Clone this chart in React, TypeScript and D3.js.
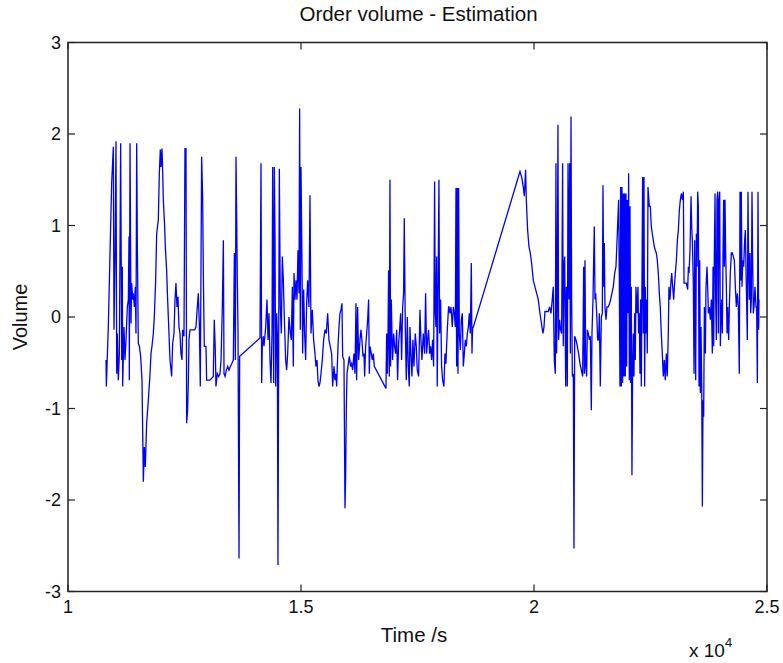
import React from 'react';
import * as d3 from 'd3';

// Order volume estimate: [time (s), volume]
const orderVolume: [number, number][] = [
  [10816, -0.47], [10823, -0.76], [10866, -0.09], [10902, 0.7], [10937, 1.46], [10973, 1.86], [10987, -0.14], [11009, 0.64],
  [11030, 1.92], [11045, -0.62], [11059, -0.18], [11080, -0.69], [11102, -0.4], [11130, 1.9], [11152, -0.47], [11166, 0.55],
  [11173, -0.76], [11202, -0.11], [11223, -0.47], [11245, -0.25], [11273, 0.11], [11295, 0.19], [11309, 0.88], [11316, -0.69],
  [11331, 1.9], [11352, -0.07], [11366, 0.37], [11388, 0.19], [11402, 0.26], [11423, 0.11], [11445, 0.33], [11459, -0.18],
  [11474, 1.9], [11488, 0.81], [11509, -0.29], [11531, -0.32], [11559, -0.43], [11588, -0.69], [11617, -1.8], [11638, -1.42],
  [11659, -1.64], [11688, -1.16], [11724, -0.91], [11760, -0.62], [11781, -0.4], [11802, -0.32], [11831, -0.18], [11852, 0.0],
  [11881, 0.4], [11903, 0.91], [11938, 1.06], [11960, 1.57], [11981, 1.83], [11995, 1.64], [12017, 1.84], [12031, 1.61],
  [12046, 1.28], [12074, 0.99], [12088, 0.77], [12117, 0.51], [12138, 0.19], [12167, -0.18], [12189, -0.47], [12203, -0.54],
  [12224, -0.65], [12246, -0.29], [12274, -0.18], [12296, 0.19], [12317, 0.37], [12339, 0.11], [12360, 0.22], [12382, -0.11],
  [12403, -0.18], [12424, -0.4], [12446, -0.47], [12460, -0.14], [12489, -0.21], [12510, 1.84], [12532, 1.84], [12546, -1.16],
  [12567, -1.02], [12582, -0.72], [12596, -0.25], [12618, -0.14], [12675, -0.14], [12718, -0.14], [12746, -0.11], [12775, 0.11],
  [12796, 0.26], [12818, -0.07], [12839, -0.76], [12868, 1.75], [12889, 1.32], [12904, 0.48], [12925, -0.32], [12961, -0.32],
  [12975, -0.69], [13047, -0.69], [13118, -0.65], [13139, -0.03], [13161, -0.36], [13175, -0.76], [13204, -0.62], [13232, -0.65],
  [13261, -0.62], [13284, -0.47], [13312, 0.11], [13334, 0.84], [13348, -0.62], [13370, -0.65], [13398, -0.58], [13427, -0.54],
  [13455, -0.58], [13484, -0.54], [13513, -0.51], [13548, -0.47], [13570, 0.7], [13591, -0.47], [13605, 1.75], [13620, 1.1],
  [13634, 0.4], [13648, -0.14], [13670, -2.64], [13684, -0.43], [14120, -0.23], [14142, 1.68], [14156, -0.72], [14170, -0.32],
  [14192, -0.21], [14206, -0.32], [14242, -0.11], [14270, 0.19], [14292, -0.25], [14313, 0.04], [14335, -0.47], [14356, -0.72],
  [14378, -0.18], [14392, 1.64], [14413, -0.72], [14428, 1.64], [14442, 0.91], [14456, -0.76], [14478, 0.04], [14492, -0.18],
  [14506, -2.71], [14521, -0.32], [14535, 1.62], [14556, 0.11], [14578, -0.18], [14599, 0.66], [14621, 0.4], [14642, 0.0],
  [14671, -0.47], [14692, -0.58], [14714, -0.4], [14742, 0.0], [14771, -0.18], [14792, -0.25], [14814, 0.33], [14835, -0.54],
  [14850, 0.48], [14871, 0.19], [14892, 0.4], [14914, 0.19], [14935, 0.73], [14957, 0.26], [14971, 2.28], [14985, -0.14],
  [15000, 1.64], [15021, 0.62], [15035, -0.4], [15057, 0.3], [15078, -0.18], [15100, -0.47], [15121, 0.15], [15143, 0.4],
  [15171, 0.11], [15193, 1.33], [15214, -0.18], [15243, 0.08], [15271, -0.25], [15300, -0.4], [15321, -0.54], [15343, -0.47],
  [15364, -0.69], [15386, -0.76], [15407, -0.72], [15429, -0.62], [15457, -0.47], [15486, -0.25], [15515, -0.14], [15543, -0.18],
  [15572, 0.04], [15600, -0.25], [15658, -0.4], [15679, -0.76], [15708, -0.54], [15729, -0.69], [15751, -0.62], [15765, -0.76],
  [15794, -0.32], [15815, -0.11], [15837, 0.04], [15858, 0.08], [15879, 0.15], [15894, -0.43], [15922, -0.47], [15944, -2.09],
  [15958, -1.75], [15972, -1.02], [15987, -0.62], [16008, -0.54], [16037, -0.43], [16065, -0.54], [16087, -0.51], [16108, -0.58],
  [16137, -0.4], [16158, -0.62], [16180, 0.15], [16194, -0.69], [16215, 0.11], [16237, -0.47], [16266, -0.25], [16287, -0.14],
  [16308, -0.25], [16330, -0.43], [16351, -0.4], [16366, -0.65], [16387, -0.32], [16409, -0.18], [16430, -0.03], [16451, 0.19],
  [16466, -0.62], [16480, -0.32], [16509, -0.4], [16530, -0.47], [16552, -0.4], [16573, -0.54], [16823, -0.78], [16838, -0.18],
  [16852, -0.62], [16866, -0.25], [16880, 0.51], [16895, -0.65], [16909, 1.5], [16923, -0.54], [16938, 0.19], [16952, -0.18],
  [16966, -0.47], [16988, -0.18], [17009, -0.32], [17031, -0.4], [17052, -0.14], [17073, -0.69], [17095, -0.29], [17116, -0.14],
  [17138, 0.04], [17159, -0.47], [17181, 0.11], [17202, 0.26], [17216, 1.08], [17238, -0.11], [17259, -0.69], [17281, 0.0],
  [17302, -0.54], [17324, -0.76], [17338, -0.11], [17359, -0.4], [17381, -0.65], [17402, -0.25], [17424, -0.54], [17452, -0.18],
  [17474, -0.32], [17495, -0.58], [17524, -0.65], [17553, 0.08], [17574, -0.25], [17595, -0.47], [17624, -0.18], [17653, -0.4],
  [17674, 0.26], [17696, -0.4], [17717, -0.25], [17738, -0.14], [17760, -0.4], [17781, -0.32], [17803, -0.47], [17824, -0.25],
  [17846, -0.54], [17867, 1.48], [17881, 0.04], [17896, -0.11], [17910, 0.66], [17924, -0.76], [17946, 0.62], [17960, 1.5],
  [17974, -0.18], [17996, 0.19], [18017, -0.54], [18039, -0.69], [18067, -0.76], [18089, -0.4], [18110, -0.51], [18139, -0.14],
  [18167, 0.11], [18176, 0.11], [18197, 0.04], [18219, 0.11], [18247, -0.11], [18269, 0.11], [18290, 0.04], [18312, -0.11],
  [18326, 1.41], [18340, -0.54], [18355, 1.41], [18369, -0.62], [18383, 1.41], [18397, -0.18], [18419, -0.36], [18440, -0.03],
  [18462, 0.04], [18483, -0.54], [18505, -0.4], [18526, -0.25], [18548, -0.32], [18569, -0.18], [18591, -0.11], [18612, 0.04],
  [18633, -0.18], [18655, 0.59], [18669, -0.4], [18683, -0.11], [18698, -0.11], [19699, 1.59], [19735, 1.53], [19770, 1.42],
  [19792, 1.32], [19820, 1.61], [19835, 1.28], [19863, 0.95], [19892, 0.77], [19920, 0.7], [19949, 0.59], [19985, 0.4],
  [20021, 0.33], [20056, 0.26], [20092, 0.19], [20128, 0.04], [20149, -0.03], [20171, -0.11], [20192, -0.18], [20214, -0.11],
  [20235, 0.06], [20271, 0.06], [20307, 0.06], [20335, 0.11], [20364, 0.04], [20392, 0.19], [20414, 0.33], [20435, -0.47],
  [20457, -0.62], [20471, 1.68], [20485, -0.4], [20500, 0.19], [20514, 2.1], [20528, -0.25], [20550, -0.03], [20571, -0.14],
  [20593, -0.18], [20614, 1.68], [20628, -0.32], [20643, 0.55], [20658, 0.66], [20680, -0.76], [20694, 0.33], [20715, -0.76],
  [20730, 1.68], [20751, 0.19], [20765, 1.68], [20780, -0.4], [20794, 2.19], [20808, 0.19], [20823, -0.65], [20844, -0.62],
  [20858, -2.53], [20873, -0.21], [20901, -0.25], [20930, -0.32], [20958, -0.4], [20987, -0.51], [21016, -0.58], [21044, -0.65],
  [21066, 0.55], [21080, -0.62], [21094, 0.62], [21109, -0.54], [21130, -0.65], [21144, -0.14], [21166, -0.18], [21187, -0.25],
  [21209, -0.21], [21230, -1.02], [21244, -0.18], [21266, 0.19], [21280, 0.62], [21294, 0.99], [21309, 0.19], [21323, 0.26],
  [21345, 0.04], [21366, -0.25], [21387, -0.25], [21402, 0.04], [21423, -0.76], [21445, 0.0], [21466, 0.04], [21480, 1.44],
  [21495, 0.33], [21509, 0.81], [21523, 0.11], [21545, -0.03], [21566, 0.11], [21595, 0.11], [21623, 0.15], [21645, 0.19],
  [21673, 0.26], [21702, 0.33], [21731, 0.48], [21759, 0.55], [21788, 0.91], [21816, 1.28], [21831, 0.4], [21845, -0.76],
  [21859, 1.42], [21874, -0.76], [21888, 1.42], [21902, -0.72], [21917, 1.35], [21931, -0.65], [21945, 1.35], [21959, -0.65],
  [21974, 1.35], [21988, -0.54], [22002, 1.28], [22017, 0.04], [22031, 1.57], [22045, -0.69], [22060, 1.21], [22074, -0.72],
  [22088, 0.33], [22102, -1.73], [22117, -0.54], [22131, -0.18], [22145, -0.65], [22160, 0.04], [22174, -0.47], [22188, 0.33],
  [22210, 0.04], [22231, 0.33], [22245, -0.18], [22260, 0.04], [22274, -0.62], [22288, 0.19], [22303, -0.76], [22317, 0.4],
  [22331, 1.53], [22346, -0.18], [22360, 1.53], [22374, -0.76], [22388, 0.33], [22403, -0.18], [22417, 0.19], [22431, -0.4],
  [22446, 1.42], [22460, 1.32], [22474, 1.21], [22496, 1.21], [22517, 0.99], [22539, 0.91], [22560, 0.84], [22581, 0.77],
  [22603, 0.73], [22624, 0.7], [22646, 0.62], [22667, 0.48], [22689, 0.26], [22710, 0.11], [22732, -0.18], [22753, -0.4],
  [22775, -0.65], [22796, -0.47], [22817, -0.69], [22839, -0.4], [22860, -0.65], [22882, -0.18], [22896, 0.33], [22918, 0.19],
  [22941, 0.4], [22955, 0.48], [22976, 0.33], [22998, 0.19], [23012, 0.33], [23034, 0.48], [23055, 0.62], [23077, 0.84],
  [23098, 0.95], [23119, 1.17], [23141, 1.28], [23162, 1.35], [23184, 1.28], [23205, 1.37], [23220, 0.37], [23241, 0.37],
  [23270, 0.37], [23298, 0.3], [23313, 0.55], [23327, 0.48], [23348, 0.73], [23370, 1.32], [23384, 0.99], [23398, 0.84],
  [23420, 0.33], [23434, -0.62], [23448, 0.84], [23470, -0.69], [23484, 0.91], [23498, 0.55], [23513, 1.37], [23527, 1.21],
  [23541, -0.76], [23556, 0.62], [23570, -0.83], [23584, -0.11], [23599, -0.76], [23613, -2.07], [23627, -0.91], [23641, -1.09],
  [23656, 0.11], [23677, -0.4], [23691, 0.33], [23713, 0.55], [23727, 0.33], [23742, 0.04], [23763, 0.11], [23784, -0.03],
  [23806, 0.19], [23827, -0.4], [23842, 0.55], [23856, -0.32], [23870, 0.7], [23885, 1.35], [23899, 0.19], [23913, -0.25],
  [23927, 1.28], [23942, 1.37], [23956, -0.18], [23970, 1.28], [23985, 1.37], [23999, -0.32], [24013, 0.0], [24028, 0.19],
  [24042, -0.18], [24056, 0.7], [24070, 1.28], [24085, 0.55], [24099, 1.28], [24113, 0.7], [24128, 0.33], [24142, -0.18],
  [24156, 0.11], [24178, -0.25], [24192, 0.11], [24213, 0.48], [24235, 0.7], [24256, 0.7], [24278, 0.66], [24299, 0.62],
  [24321, 0.33], [24342, 0.11], [24364, 0.26], [24385, 0.11], [24406, -0.62], [24421, 1.37], [24435, 0.4], [24449, 1.37],
  [24464, 0.33], [24478, 0.62], [24499, 0.55], [24521, 0.84], [24535, 0.95], [24557, 0.33], [24578, -0.25], [24592, 1.37],
  [24607, 0.55], [24621, 0.19], [24635, 0.7], [24650, 0.04], [24664, 0.19], [24678, 1.37], [24692, 0.62], [24707, 0.04],
  [24721, 0.11], [24742, 0.33], [24764, 0.11], [24778, 0.11], [24793, -0.72], [24807, 1.37], [24821, -0.14], [24828, 0.19],
];

const xTicks = [10000, 15000, 20000, 25000];
const xTickLabels = ['1', '1.5', '2', '2.5'];
const yTicks = [-3, -2, -1, 0, 1, 2, 3];

const W = 783;
const H = 663;
const FONT = '"Liberation Sans", Arial, sans-serif';

const App = () => {
  // plot box
  const left = 68, right = 767, top = 42.5, bottom = 591.5;
  const tick = 7;

  const x = d3.scaleLinear().domain([10000, 25000]).range([left, right]);
  const y = d3.scaleLinear().domain([-3, 3]).range([bottom, top]);

  const line = d3
    .line<[number, number]>()
    .x((d) => x(d[0]))
    .y((d) => y(d[1]));

  return (
    <div style={{ position: 'absolute', left: 0, top: 0 }}>
      <svg width={W} height={H} style={{ display: 'block', background: '#fff' }}>
        <path d={line(orderVolume) || ''} fill="none" stroke="#0000ff" strokeWidth={1.3} />

        {/* ticks, pointing inwards on all four sides */}
        {xTicks.map((t) => (
          <g key={'xt' + t} stroke="#222" strokeWidth={1.2}>
            <line x1={x(t)} x2={x(t)} y1={bottom} y2={bottom - tick} />
            <line x1={x(t)} x2={x(t)} y1={top} y2={top + tick} />
          </g>
        ))}
        {yTicks.map((t) => (
          <g key={'yt' + t} stroke="#222" strokeWidth={1.2}>
            <line x1={left} x2={left + tick} y1={y(t)} y2={y(t)} />
            <line x1={right} x2={right - tick} y1={y(t)} y2={y(t)} />
          </g>
        ))}
        <rect x={left} y={top} width={right - left} height={bottom - top} fill="none" stroke="#222" strokeWidth={1.5} />

        {/* tick labels */}
        {xTicks.map((t, i) => (
          <text key={'xl' + t} x={x(t)} y={bottom + 21} textAnchor="middle" fontFamily={FONT} fontSize={18} fill="#111">
            {xTickLabels[i]}
          </text>
        ))}
        {yTicks.map((t) => (
          <text key={'yl' + t} x={left - 7} y={y(t)} dy="0.35em" textAnchor="end" fontFamily={FONT} fontSize={18} fill="#111">
            {t}
          </text>
        ))}

        {/* title and axis labels */}
        <text x={(left + right) / 2 + 1} y={21} textAnchor="middle" fontFamily={FONT} fontSize={20.5} fill="#111">
          Order volume - Estimation
        </text>
        <text x={414} y={642} textAnchor="middle" fontFamily={FONT} fontSize={20.5} fill="#111">
          Time /s
        </text>
        <text
          transform={`translate(27,${(top + bottom) / 2}) rotate(-90)`}
          textAnchor="middle"
          fontFamily={FONT}
          fontSize={20}
          fill="#111"
        >
          Volume
        </text>
        <text x={689} y={657} fontFamily={FONT} fontSize={19} fill="#111">
          x 10<tspan dy={-10} fontSize={13}>4</tspan>
        </text>
      </svg>
    </div>
  );
};

export default App;
